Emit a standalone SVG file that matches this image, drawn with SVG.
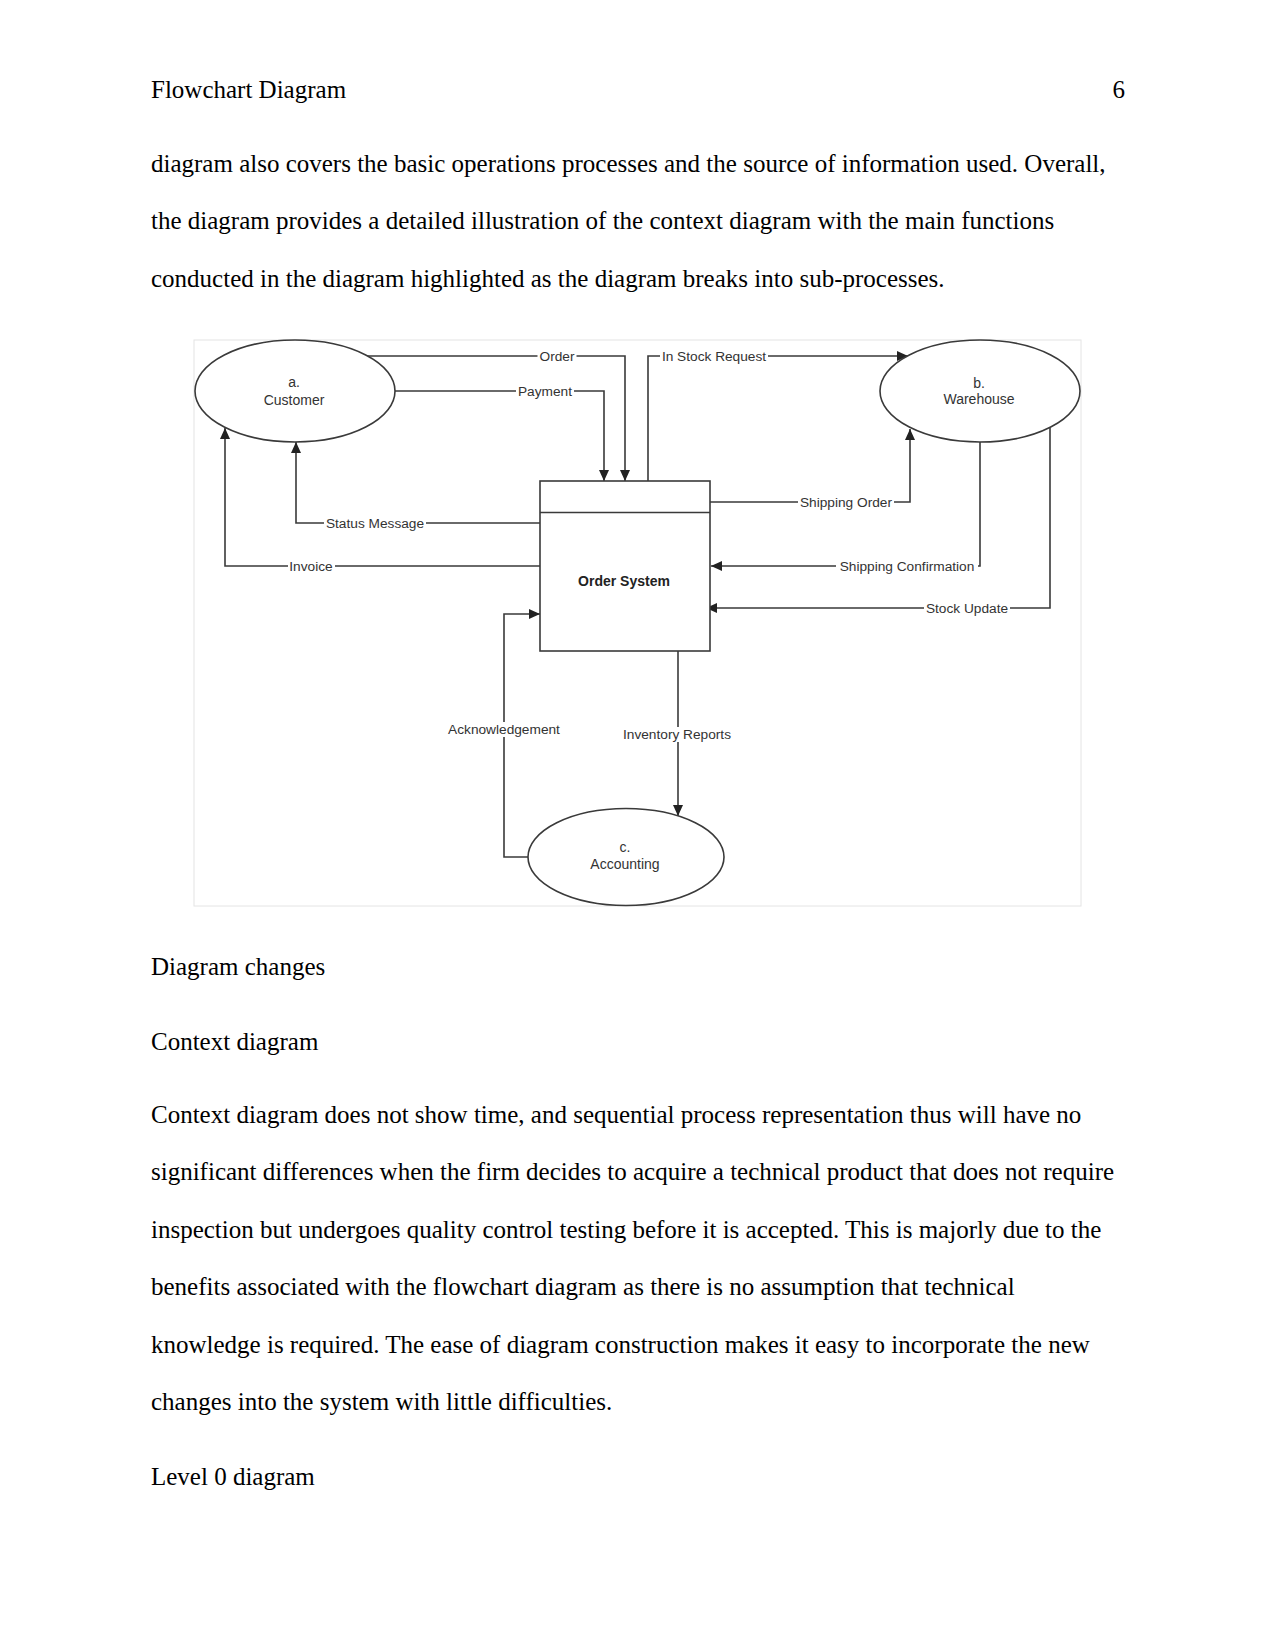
<svg xmlns="http://www.w3.org/2000/svg" width="1275" height="1651" viewBox="0 0 1275 1651">
<style>
.body{font-family:"Liberation Sans",Arial,sans-serif;font-size:25px;fill:#000}
.body{font-family:"Liberation Serif","Times New Roman",serif}
.node{fill:#fff;stroke:#3a3a3a;stroke-width:1.6}
.nt{font-family:"Liberation Sans",Arial,sans-serif;font-size:14px;fill:#333;text-anchor:middle}
.bold{font-weight:bold;fill:#222}
.conn{fill:none;stroke:#3a3a3a;stroke-width:1.6}
.bg{fill:#fff}
.lbl{font-family:"Liberation Sans",Arial,sans-serif;font-size:13.7px;fill:#333;text-anchor:middle}
</style>
<defs>
<marker id="arr" markerUnits="userSpaceOnUse" markerWidth="12" markerHeight="10" refX="11" refY="5" orient="auto">
<path d="M0,0 L11,5 L0,10 Z" fill="#222"/>
</marker>
</defs>
<rect width="1275" height="1651" fill="#fff"/>
<g id="page-text">
<text class="body" x="151" y="98">Flowchart Diagram</text>
<text class="body" x="1125" y="98" text-anchor="end">6</text>
<text class="body" x="151" y="172">diagram also covers the basic operations processes and the source of information used. Overall,</text>
<text class="body" x="151" y="229.4">the diagram provides a detailed illustration of the context diagram with the main functions</text>
<text class="body" x="151" y="286.8">conducted in the diagram highlighted as the diagram breaks into sub-processes.</text>
<text class="body" x="151" y="975">Diagram changes</text>
<text class="body" x="151" y="1050">Context diagram</text>
<text class="body" x="151" y="1123">Context diagram does not show time, and sequential process representation thus will have no</text>
<text class="body" x="151" y="1180.4">significant differences when the firm decides to acquire a technical product that does not require</text>
<text class="body" x="151" y="1237.8">inspection but undergoes quality control testing before it is accepted. This is majorly due to the</text>
<text class="body" x="151" y="1295.2">benefits associated with the flowchart diagram as there is no assumption that technical</text>
<text class="body" x="151" y="1352.6">knowledge is required. The ease of diagram construction makes it easy to incorporate the new</text>
<text class="body" x="151" y="1410">changes into the system with little difficulties.</text>
<text class="body" x="151" y="1485">Level 0 diagram</text>
</g>
<rect id="frame" x="194" y="340" width="887" height="566" fill="#fff" stroke="#e4e4e4" stroke-width="1"/>
<g id="connectors">
<path class="conn" d="M367,356 H625 V481" marker-end="url(#arr)"/>
<path class="conn" d="M395,391 H604 V481" marker-end="url(#arr)"/>
<path class="conn" d="M648,481 V356 H908" marker-end="url(#arr)"/>
<path class="conn" d="M710,502 H910 V429" marker-end="url(#arr)"/>
<path class="conn" d="M980,442 V566 H711" marker-end="url(#arr)"/>
<path class="conn" d="M1050,428 V608 H706" marker-end="url(#arr)"/>
<path class="conn" d="M540,523 H296 V442" marker-end="url(#arr)"/>
<path class="conn" d="M540,566 H225 V428" marker-end="url(#arr)"/>
<path class="conn" d="M528,857 H504 V614 H540" marker-end="url(#arr)"/>
<path class="conn" d="M678,651 V816" marker-end="url(#arr)"/>
<rect class="bg" x="537.5" y="349" width="39" height="14"/>
<rect class="bg" x="516" y="384" width="58" height="14"/>
<rect class="bg" x="660" y="349" width="108" height="14"/>
<rect class="bg" x="798" y="495" width="96" height="14"/>
<rect class="bg" x="836" y="559" width="142" height="14"/>
<rect class="bg" x="924" y="601" width="86" height="14"/>
<rect class="bg" x="324" y="516" width="102" height="14"/>
<rect class="bg" x="288" y="559" width="47" height="14"/>
<rect class="bg" x="446" y="722" width="116" height="15"/>
<rect class="bg" x="621" y="727" width="112" height="15"/>
<text class="lbl" x="557" y="361">Order</text>
<text class="lbl" x="545" y="396">Payment</text>
<text class="lbl" x="714" y="361">In Stock Request</text>
<text class="lbl" x="846" y="507">Shipping Order</text>
<text class="lbl" x="907" y="571">Shipping Confirmation</text>
<text class="lbl" x="967" y="613">Stock Update</text>
<text class="lbl" x="375" y="528">Status Message</text>
<text class="lbl" x="311" y="571">Invoice</text>
<text class="lbl" x="504" y="734">Acknowledgement</text>
<text class="lbl" x="677" y="739">Inventory Reports</text>
</g>
<g id="customer">
<ellipse class="node" cx="295" cy="391" rx="100" ry="51"/>
<text class="nt" x="294" y="387">a.</text>
<text class="nt" x="294" y="405">Customer</text>
</g>
<g id="warehouse">
<ellipse class="node" cx="980" cy="391" rx="100" ry="51"/>
<text class="nt" x="979" y="388">b.</text>
<text class="nt" x="979" y="404">Warehouse</text>
</g>
<g id="accounting">
<ellipse class="node" cx="626" cy="857" rx="98" ry="48.5"/>
<text class="nt" x="625" y="852">c.</text>
<text class="nt" x="625" y="869">Accounting</text>
</g>
<g id="order-system">
<rect class="node" x="540" y="481" width="170" height="170" fill="none"/>
<line class="conn" x1="540" y1="512.5" x2="710" y2="512.5"/>
<text class="nt bold" x="624" y="586">Order System</text>
</g>
</svg>
